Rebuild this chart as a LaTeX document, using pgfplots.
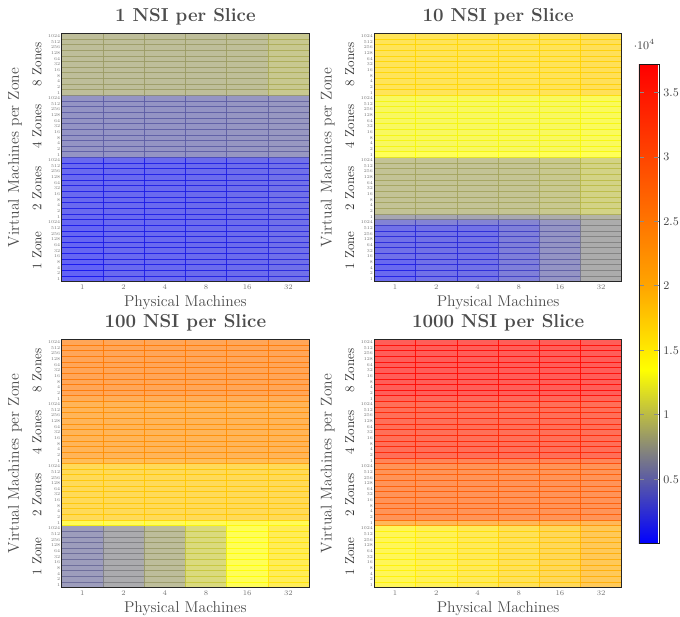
\documentclass[border=0pt]{standalone}
\usepackage{fontspec}
\usepackage{pgfplots}
\pgfplotsset{compat=1.18}
\pgfplotsset{
  colormap={nsi}{rgb255(0cm)=(0,0,255) rgb255(0.7cm)=(128,128,128) rgb255(1.35cm)=(255,255,0) rgb255(2cm)=(255,165,0) rgb255(3.72cm)=(255,0,0)},
  hm/.style={
    width=190.2pt, height=191pt, scale only axis,
    xmin=-0.5, xmax=5.5, ymin=-0.5, ymax=43.5, enlargelimits=false,
    xtick={0,...,5}, xticklabels={1,2,4,8,16,32},
    ytick={0,...,43},
    yticklabels={1024,512,256,128,64,32,16,8,4,2,1,1024,512,256,128,64,32,16,8,4,2,1,1024,512,256,128,64,32,16,8,4,2,1,1024,512,256,128,64,32,16,8,4,2,1},
    major tick length=0pt,
    /pgf/number format/assume math mode=true,
    colormap name=nsi, point meta min=0, point meta max=37200,
    axis line style={black!85, line width=0.6pt},
    title style={font=\Large\bfseries, text=black!70, yshift=-3pt},
    xlabel={Physical Machines},
    xlabel style={font=\large, text=black!70, at={(rel axis cs:0.5,0)}, anchor=center, yshift=-16.3pt},
    x tick label style={font=\fontsize{5.5}{6}\selectfont, text=black!55, inner sep=2pt},
    y tick label style={font=\fontsize{3.4}{3.6}\selectfont, text=black!55, inner sep=1pt},
  },
  hmplot/.style={matrix plot, mesh/cols=6, point meta=explicit, opacity=0.65,
    faceted color=mapped color!55!black, line width=0.5pt},
}
\begin{document}
\begin{tikzpicture}
\path[use as bounding box] (0,0) rectangle (523pt,-473.8pt);

% ---------- 1 NSI per Slice ----------
\begin{axis}[hm, name=tl, at={(47.5pt,-25.6pt)}, anchor=north west, title={1 NSI per Slice}]
\addplot[hmplot] table[row sep=\\, meta=c, x=x, y expr=43-\thisrow{y}] {
x y c\\
0 0 900\\ 1 0 1400\\ 2 0 1400\\ 3 0 1500\\ 4 0 1600\\ 5 0 1900\\
0 1 900\\ 1 1 1400\\ 2 1 1400\\ 3 1 1500\\ 4 1 1600\\ 5 1 1900\\
0 2 900\\ 1 2 1400\\ 2 2 1400\\ 3 2 1500\\ 4 2 1600\\ 5 2 1900\\
0 3 900\\ 1 3 1400\\ 2 3 1400\\ 3 3 1500\\ 4 3 1600\\ 5 3 1900\\
0 4 1100\\ 1 4 1400\\ 2 4 1400\\ 3 4 1500\\ 4 4 1600\\ 5 4 1900\\
0 5 1100\\ 1 5 1400\\ 2 5 1400\\ 3 5 1500\\ 4 5 1600\\ 5 5 1900\\
0 6 1100\\ 1 6 1400\\ 2 6 1400\\ 3 6 1500\\ 4 6 1600\\ 5 6 1900\\
0 7 1100\\ 1 7 1400\\ 2 7 1400\\ 3 7 1500\\ 4 7 1600\\ 5 7 1900\\
0 8 1100\\ 1 8 1400\\ 2 8 1400\\ 3 8 1500\\ 4 8 1600\\ 5 8 1900\\
0 9 1100\\ 1 9 1400\\ 2 9 1400\\ 3 9 1500\\ 4 9 1600\\ 5 9 1900\\
0 10 1100\\ 1 10 1400\\ 2 10 1400\\ 3 10 1500\\ 4 10 1600\\ 5 10 1900\\
0 11 1400\\ 1 11 1400\\ 2 11 1400\\ 3 11 1500\\ 4 11 1700\\ 5 11 2000\\
0 12 1400\\ 1 12 1400\\ 2 12 1400\\ 3 12 1500\\ 4 12 1700\\ 5 12 2000\\
0 13 1400\\ 1 13 1400\\ 2 13 1400\\ 3 13 1500\\ 4 13 1700\\ 5 13 2000\\
0 14 1400\\ 1 14 1400\\ 2 14 1400\\ 3 14 1500\\ 4 14 1700\\ 5 14 2000\\
0 15 1400\\ 1 15 1400\\ 2 15 1400\\ 3 15 1500\\ 4 15 1700\\ 5 15 2000\\
0 16 1400\\ 1 16 1400\\ 2 16 1400\\ 3 16 1500\\ 4 16 1700\\ 5 16 2000\\
0 17 1400\\ 1 17 1400\\ 2 17 1400\\ 3 17 1500\\ 4 17 1700\\ 5 17 2000\\
0 18 1400\\ 1 18 1400\\ 2 18 1400\\ 3 18 1500\\ 4 18 1700\\ 5 18 2000\\
0 19 1400\\ 1 19 1400\\ 2 19 1400\\ 3 19 1500\\ 4 19 1700\\ 5 19 2000\\
0 20 1400\\ 1 20 1400\\ 2 20 1400\\ 3 20 1500\\ 4 20 1700\\ 5 20 2000\\
0 21 1400\\ 1 21 1400\\ 2 21 1400\\ 3 21 1500\\ 4 21 1700\\ 5 21 2000\\
0 22 5000\\ 1 22 5000\\ 2 22 5000\\ 3 22 5000\\ 4 22 5100\\ 5 22 5300\\
0 23 5000\\ 1 23 5000\\ 2 23 5000\\ 3 23 5000\\ 4 23 5100\\ 5 23 5300\\
0 24 5000\\ 1 24 5000\\ 2 24 5000\\ 3 24 5000\\ 4 24 5100\\ 5 24 5300\\
0 25 5000\\ 1 25 5000\\ 2 25 5000\\ 3 25 5000\\ 4 25 5100\\ 5 25 5300\\
0 26 5000\\ 1 26 5000\\ 2 26 5000\\ 3 26 5000\\ 4 26 5100\\ 5 26 5300\\
0 27 5000\\ 1 27 5000\\ 2 27 5000\\ 3 27 5000\\ 4 27 5100\\ 5 27 5300\\
0 28 5000\\ 1 28 5000\\ 2 28 5000\\ 3 28 5000\\ 4 28 5100\\ 5 28 5300\\
0 29 5000\\ 1 29 5000\\ 2 29 5000\\ 3 29 5000\\ 4 29 5100\\ 5 29 5300\\
0 30 5000\\ 1 30 5000\\ 2 30 5000\\ 3 30 5000\\ 4 30 5100\\ 5 30 5300\\
0 31 5000\\ 1 31 5000\\ 2 31 5000\\ 3 31 5000\\ 4 31 5100\\ 5 31 5300\\
0 32 5000\\ 1 32 5000\\ 2 32 5000\\ 3 32 5000\\ 4 32 5100\\ 5 32 5300\\
0 33 8400\\ 1 33 8400\\ 2 33 8400\\ 3 33 8400\\ 4 33 8500\\ 5 33 9200\\
0 34 8400\\ 1 34 8400\\ 2 34 8400\\ 3 34 8400\\ 4 34 8500\\ 5 34 9200\\
0 35 8400\\ 1 35 8400\\ 2 35 8400\\ 3 35 8400\\ 4 35 8500\\ 5 35 9200\\
0 36 8400\\ 1 36 8400\\ 2 36 8400\\ 3 36 8400\\ 4 36 8500\\ 5 36 9200\\
0 37 8400\\ 1 37 8400\\ 2 37 8400\\ 3 37 8400\\ 4 37 8500\\ 5 37 9200\\
0 38 8400\\ 1 38 8400\\ 2 38 8400\\ 3 38 8400\\ 4 38 8500\\ 5 38 9200\\
0 39 8400\\ 1 39 8400\\ 2 39 8400\\ 3 39 8400\\ 4 39 8500\\ 5 39 9200\\
0 40 8400\\ 1 40 8400\\ 2 40 8400\\ 3 40 8400\\ 4 40 8500\\ 5 40 9200\\
0 41 8400\\ 1 41 8400\\ 2 41 8400\\ 3 41 8400\\ 4 41 8500\\ 5 41 9200\\
0 42 8400\\ 1 42 8400\\ 2 42 8400\\ 3 42 8400\\ 4 42 8500\\ 5 42 9200\\
0 43 8400\\ 1 43 8400\\ 2 43 8400\\ 3 43 8400\\ 4 43 8500\\ 5 43 9200\\
};
\end{axis}

% ---------- 10 NSI per Slice ----------
\begin{axis}[hm, name=tr, at={(288pt,-25.6pt)}, anchor=north west, title={10 NSI per Slice},
  colorbar,
  colorbar style={at={(parent axis.north east)}, anchor=north west,
    xshift=4.6pt, yshift=-23.6pt,
    scale only axis, width=15.4pt, height=369pt,
    ytick={5000,10000,15000,20000,25000,30000,35000},
    yticklabel style={font=\small, text=black!75},
    major tick length=4pt,
    major tick style={black!45, line width=0.5pt},
    axis line style={black!90},
    every y tick scale label/.append style={font=\small, text=black!75}}]
\addplot[hmplot] table[row sep=\\, meta=c, x=x, y expr=43-\thisrow{y}] {
x y c\\
0 0 1400\\ 1 0 2000\\ 2 0 2100\\ 3 0 3200\\ 4 0 5000\\ 5 0 7000\\
0 1 1400\\ 1 1 2000\\ 2 1 2100\\ 3 1 3200\\ 4 1 5000\\ 5 1 7000\\
0 2 1400\\ 1 2 2000\\ 2 2 2100\\ 3 2 3200\\ 4 2 5000\\ 5 2 7000\\
0 3 1400\\ 1 3 2000\\ 2 3 2100\\ 3 3 3200\\ 4 3 5000\\ 5 3 7000\\
0 4 2000\\ 1 4 2100\\ 2 4 2100\\ 3 4 3200\\ 4 4 5000\\ 5 4 7000\\
0 5 2000\\ 1 5 2100\\ 2 5 2100\\ 3 5 3200\\ 4 5 5000\\ 5 5 7000\\
0 6 2000\\ 1 6 2100\\ 2 6 2100\\ 3 6 3200\\ 4 6 5000\\ 5 6 7000\\
0 7 2000\\ 1 7 2100\\ 2 7 2100\\ 3 7 3200\\ 4 7 5000\\ 5 7 7000\\
0 8 2000\\ 1 8 2100\\ 2 8 2100\\ 3 8 3200\\ 4 8 5000\\ 5 8 7000\\
0 9 2000\\ 1 9 2100\\ 2 9 2100\\ 3 9 3200\\ 4 9 5000\\ 5 9 7000\\
0 10 3500\\ 1 10 3500\\ 2 10 3500\\ 3 10 3800\\ 4 10 5200\\ 5 10 7000\\
0 11 6500\\ 1 11 6500\\ 2 11 6500\\ 3 11 6600\\ 4 11 7000\\ 5 11 7500\\
0 12 8800\\ 1 12 8800\\ 2 12 8800\\ 3 12 8900\\ 4 12 9200\\ 5 12 10000\\
0 13 8800\\ 1 13 8800\\ 2 13 8800\\ 3 13 8900\\ 4 13 9200\\ 5 13 10000\\
0 14 8800\\ 1 14 8800\\ 2 14 8800\\ 3 14 8900\\ 4 14 9200\\ 5 14 10000\\
0 15 8800\\ 1 15 8800\\ 2 15 8800\\ 3 15 8900\\ 4 15 9200\\ 5 15 10000\\
0 16 8800\\ 1 16 8800\\ 2 16 8800\\ 3 16 8900\\ 4 16 9200\\ 5 16 10000\\
0 17 8800\\ 1 17 8800\\ 2 17 8800\\ 3 17 8900\\ 4 17 9200\\ 5 17 10000\\
0 18 8800\\ 1 18 8800\\ 2 18 8800\\ 3 18 8900\\ 4 18 9200\\ 5 18 10000\\
0 19 8800\\ 1 19 8800\\ 2 19 8800\\ 3 19 8900\\ 4 19 9200\\ 5 19 10000\\
0 20 8800\\ 1 20 8800\\ 2 20 8800\\ 3 20 8900\\ 4 20 9200\\ 5 20 10000\\
0 21 8800\\ 1 21 8800\\ 2 21 8800\\ 3 21 8900\\ 4 21 9200\\ 5 21 10000\\
0 22 13500\\ 1 22 13500\\ 2 22 13500\\ 3 22 13500\\ 4 22 13500\\ 5 22 13500\\
0 23 13000\\ 1 23 13000\\ 2 23 13000\\ 3 23 13000\\ 4 23 13000\\ 5 23 13100\\
0 24 13000\\ 1 24 13000\\ 2 24 13000\\ 3 24 13000\\ 4 24 13000\\ 5 24 13100\\
0 25 13000\\ 1 25 13000\\ 2 25 13000\\ 3 25 13000\\ 4 25 13000\\ 5 25 13100\\
0 26 13000\\ 1 26 13000\\ 2 26 13000\\ 3 26 13000\\ 4 26 13000\\ 5 26 13100\\
0 27 13000\\ 1 27 13000\\ 2 27 13000\\ 3 27 13000\\ 4 27 13000\\ 5 27 13100\\
0 28 13000\\ 1 28 13000\\ 2 28 13000\\ 3 28 13000\\ 4 28 13000\\ 5 28 13100\\
0 29 13000\\ 1 29 13000\\ 2 29 13000\\ 3 29 13000\\ 4 29 13000\\ 5 29 13100\\
0 30 13000\\ 1 30 13000\\ 2 30 13000\\ 3 30 13000\\ 4 30 13000\\ 5 30 13100\\
0 31 13000\\ 1 31 13000\\ 2 31 13000\\ 3 31 13000\\ 4 31 13000\\ 5 31 13100\\
0 32 13000\\ 1 32 13000\\ 2 32 13000\\ 3 32 13000\\ 4 32 13000\\ 5 32 13100\\
0 33 16500\\ 1 33 16500\\ 2 33 16500\\ 3 33 16500\\ 4 33 16600\\ 5 33 17000\\
0 34 16500\\ 1 34 16500\\ 2 34 16500\\ 3 34 16500\\ 4 34 16600\\ 5 34 17000\\
0 35 16500\\ 1 35 16500\\ 2 35 16500\\ 3 35 16500\\ 4 35 16600\\ 5 35 17000\\
0 36 16500\\ 1 36 16500\\ 2 36 16500\\ 3 36 16500\\ 4 36 16600\\ 5 36 17000\\
0 37 16500\\ 1 37 16500\\ 2 37 16500\\ 3 37 16500\\ 4 37 16600\\ 5 37 17000\\
0 38 16500\\ 1 38 16500\\ 2 38 16500\\ 3 38 16500\\ 4 38 16600\\ 5 38 17000\\
0 39 16500\\ 1 39 16500\\ 2 39 16500\\ 3 39 16500\\ 4 39 16600\\ 5 39 17000\\
0 40 16500\\ 1 40 16500\\ 2 40 16500\\ 3 40 16500\\ 4 40 16600\\ 5 40 17000\\
0 41 16500\\ 1 41 16500\\ 2 41 16500\\ 3 41 16500\\ 4 41 16600\\ 5 41 17000\\
0 42 16500\\ 1 42 16500\\ 2 42 16500\\ 3 42 16500\\ 4 42 16600\\ 5 42 17000\\
0 43 16500\\ 1 43 16500\\ 2 43 16500\\ 3 43 16500\\ 4 43 16600\\ 5 43 17000\\
};
\end{axis}

% ---------- 100 NSI per Slice ----------
\begin{axis}[hm, name=bl, at={(47.5pt,-261pt)}, anchor=north west, title={100 NSI per Slice}]
\addplot[hmplot] table[row sep=\\, meta=c, x=x, y expr=43-\thisrow{y}] {
x y c\\
0 0 5700\\ 1 0 6900\\ 2 0 8300\\ 3 0 10600\\ 4 0 13600\\ 5 0 15500\\
0 1 5700\\ 1 1 6900\\ 2 1 8300\\ 3 1 10600\\ 4 1 13600\\ 5 1 15500\\
0 2 5700\\ 1 2 6900\\ 2 2 8300\\ 3 2 10600\\ 4 2 13600\\ 5 2 15500\\
0 3 5700\\ 1 3 6900\\ 2 3 8300\\ 3 3 10600\\ 4 3 13600\\ 5 3 15500\\
0 4 5700\\ 1 4 6900\\ 2 4 8300\\ 3 4 10600\\ 4 4 13600\\ 5 4 15500\\
0 5 5700\\ 1 5 6900\\ 2 5 8300\\ 3 5 10600\\ 4 5 13600\\ 5 5 15500\\
0 6 5700\\ 1 6 6900\\ 2 6 8300\\ 3 6 10600\\ 4 6 13600\\ 5 6 15500\\
0 7 5700\\ 1 7 6900\\ 2 7 8300\\ 3 7 10600\\ 4 7 13600\\ 5 7 15500\\
0 8 5700\\ 1 8 6900\\ 2 8 8300\\ 3 8 10600\\ 4 8 13600\\ 5 8 15500\\
0 9 5700\\ 1 9 6900\\ 2 9 8300\\ 3 9 10600\\ 4 9 13600\\ 5 9 15500\\
0 10 5700\\ 1 10 6900\\ 2 10 8300\\ 3 10 10600\\ 4 10 13600\\ 5 10 15500\\
0 11 14000\\ 1 11 14000\\ 2 11 14000\\ 3 11 14000\\ 4 11 14000\\ 5 11 14000\\
0 12 17600\\ 1 12 17600\\ 2 12 17600\\ 3 12 17600\\ 4 12 17600\\ 5 12 17600\\
0 13 17600\\ 1 13 17600\\ 2 13 17600\\ 3 13 17600\\ 4 13 17600\\ 5 13 17600\\
0 14 17600\\ 1 14 17600\\ 2 14 17600\\ 3 14 17600\\ 4 14 17600\\ 5 14 17600\\
0 15 17600\\ 1 15 17600\\ 2 15 17600\\ 3 15 17600\\ 4 15 17600\\ 5 15 17600\\
0 16 17600\\ 1 16 17600\\ 2 16 17600\\ 3 16 17600\\ 4 16 17600\\ 5 16 17600\\
0 17 17600\\ 1 17 17600\\ 2 17 17600\\ 3 17 17600\\ 4 17 17600\\ 5 17 17600\\
0 18 17600\\ 1 18 17600\\ 2 18 17600\\ 3 18 17600\\ 4 18 17600\\ 5 18 17600\\
0 19 17600\\ 1 19 17600\\ 2 19 17600\\ 3 19 17600\\ 4 19 17600\\ 5 19 17600\\
0 20 17600\\ 1 20 17600\\ 2 20 17600\\ 3 20 17600\\ 4 20 17600\\ 5 20 17600\\
0 21 17600\\ 1 21 17600\\ 2 21 17600\\ 3 21 17600\\ 4 21 17600\\ 5 21 17600\\
0 22 21000\\ 1 22 21000\\ 2 22 21000\\ 3 22 21000\\ 4 22 21000\\ 5 22 21000\\
0 23 22500\\ 1 23 22500\\ 2 23 22500\\ 3 23 22500\\ 4 23 22500\\ 5 23 22500\\
0 24 22500\\ 1 24 22500\\ 2 24 22500\\ 3 24 22500\\ 4 24 22500\\ 5 24 22500\\
0 25 22500\\ 1 25 22500\\ 2 25 22500\\ 3 25 22500\\ 4 25 22500\\ 5 25 22500\\
0 26 22500\\ 1 26 22500\\ 2 26 22500\\ 3 26 22500\\ 4 26 22500\\ 5 26 22500\\
0 27 22500\\ 1 27 22500\\ 2 27 22500\\ 3 27 22500\\ 4 27 22500\\ 5 27 22500\\
0 28 22500\\ 1 28 22500\\ 2 28 22500\\ 3 28 22500\\ 4 28 22500\\ 5 28 22500\\
0 29 22500\\ 1 29 22500\\ 2 29 22500\\ 3 29 22500\\ 4 29 22500\\ 5 29 22500\\
0 30 22500\\ 1 30 22500\\ 2 30 22500\\ 3 30 22500\\ 4 30 22500\\ 5 30 22500\\
0 31 22500\\ 1 31 22500\\ 2 31 22500\\ 3 31 22500\\ 4 31 22500\\ 5 31 22500\\
0 32 22500\\ 1 32 22500\\ 2 32 22500\\ 3 32 22500\\ 4 32 22500\\ 5 32 22500\\
0 33 23500\\ 1 33 23500\\ 2 33 23500\\ 3 33 23500\\ 4 33 23500\\ 5 33 23500\\
0 34 24800\\ 1 34 24800\\ 2 34 24800\\ 3 34 24800\\ 4 34 24800\\ 5 34 24800\\
0 35 24800\\ 1 35 24800\\ 2 35 24800\\ 3 35 24800\\ 4 35 24800\\ 5 35 24800\\
0 36 24800\\ 1 36 24800\\ 2 36 24800\\ 3 36 24800\\ 4 36 24800\\ 5 36 24800\\
0 37 24800\\ 1 37 24800\\ 2 37 24800\\ 3 37 24800\\ 4 37 24800\\ 5 37 24800\\
0 38 24800\\ 1 38 24800\\ 2 38 24800\\ 3 38 24800\\ 4 38 24800\\ 5 38 24800\\
0 39 24800\\ 1 39 24800\\ 2 39 24800\\ 3 39 24800\\ 4 39 24800\\ 5 39 24800\\
0 40 24800\\ 1 40 24800\\ 2 40 24800\\ 3 40 24800\\ 4 40 24800\\ 5 40 24800\\
0 41 24800\\ 1 41 24800\\ 2 41 24800\\ 3 41 24800\\ 4 41 24800\\ 5 41 24800\\
0 42 24800\\ 1 42 24800\\ 2 42 24800\\ 3 42 24800\\ 4 42 24800\\ 5 42 24800\\
0 43 24800\\ 1 43 24800\\ 2 43 24800\\ 3 43 24800\\ 4 43 24800\\ 5 43 24800\\
};
\end{axis}

% ---------- 1000 NSI per Slice ----------
\begin{axis}[hm, name=br, at={(288pt,-261pt)}, anchor=north west, title={1000 NSI per Slice}]
\addplot[hmplot] table[row sep=\\, meta=c, x=x, y expr=43-\thisrow{y}] {
x y c\\
0 0 14500\\ 1 0 15000\\ 2 0 15800\\ 3 0 16800\\ 4 0 17800\\ 5 0 19500\\
0 1 14500\\ 1 1 15000\\ 2 1 15800\\ 3 1 16800\\ 4 1 17800\\ 5 1 19500\\
0 2 14500\\ 1 2 15000\\ 2 2 15800\\ 3 2 16800\\ 4 2 17800\\ 5 2 19500\\
0 3 14500\\ 1 3 15000\\ 2 3 15800\\ 3 3 16800\\ 4 3 17800\\ 5 3 19500\\
0 4 14500\\ 1 4 15000\\ 2 4 15800\\ 3 4 16800\\ 4 4 17800\\ 5 4 19500\\
0 5 14500\\ 1 5 15000\\ 2 5 15800\\ 3 5 16800\\ 4 5 17800\\ 5 5 19500\\
0 6 14500\\ 1 6 15000\\ 2 6 15800\\ 3 6 16800\\ 4 6 17800\\ 5 6 19500\\
0 7 14500\\ 1 7 15000\\ 2 7 15800\\ 3 7 16800\\ 4 7 17800\\ 5 7 19500\\
0 8 14500\\ 1 8 15000\\ 2 8 15800\\ 3 8 16800\\ 4 8 17800\\ 5 8 19500\\
0 9 14500\\ 1 9 15000\\ 2 9 15800\\ 3 9 16800\\ 4 9 17800\\ 5 9 19500\\
0 10 14500\\ 1 10 15000\\ 2 10 15800\\ 3 10 16800\\ 4 10 17800\\ 5 10 19500\\
0 11 22000\\ 1 11 22000\\ 2 11 22000\\ 3 11 22000\\ 4 11 22000\\ 5 11 22000\\
0 12 27700\\ 1 12 27700\\ 2 12 27700\\ 3 12 27700\\ 4 12 27700\\ 5 12 27700\\
0 13 27700\\ 1 13 27700\\ 2 13 27700\\ 3 13 27700\\ 4 13 27700\\ 5 13 27700\\
0 14 27700\\ 1 14 27700\\ 2 14 27700\\ 3 14 27700\\ 4 14 27700\\ 5 14 27700\\
0 15 27700\\ 1 15 27700\\ 2 15 27700\\ 3 15 27700\\ 4 15 27700\\ 5 15 27700\\
0 16 27700\\ 1 16 27700\\ 2 16 27700\\ 3 16 27700\\ 4 16 27700\\ 5 16 27700\\
0 17 27700\\ 1 17 27700\\ 2 17 27700\\ 3 17 27700\\ 4 17 27700\\ 5 17 27700\\
0 18 27700\\ 1 18 27700\\ 2 18 27700\\ 3 18 27700\\ 4 18 27700\\ 5 18 27700\\
0 19 27700\\ 1 19 27700\\ 2 19 27700\\ 3 19 27700\\ 4 19 27700\\ 5 19 27700\\
0 20 27700\\ 1 20 27700\\ 2 20 27700\\ 3 20 27700\\ 4 20 27700\\ 5 20 27700\\
0 21 27700\\ 1 21 27700\\ 2 21 27700\\ 3 21 27700\\ 4 21 27700\\ 5 21 27700\\
0 22 30000\\ 1 22 30000\\ 2 22 30000\\ 3 22 30000\\ 4 22 30000\\ 5 22 30000\\
0 23 33600\\ 1 23 33600\\ 2 23 33600\\ 3 23 33600\\ 4 23 33600\\ 5 23 33600\\
0 24 33600\\ 1 24 33600\\ 2 24 33600\\ 3 24 33600\\ 4 24 33600\\ 5 24 33600\\
0 25 33600\\ 1 25 33600\\ 2 25 33600\\ 3 25 33600\\ 4 25 33600\\ 5 25 33600\\
0 26 33600\\ 1 26 33600\\ 2 26 33600\\ 3 26 33600\\ 4 26 33600\\ 5 26 33600\\
0 27 33600\\ 1 27 33600\\ 2 27 33600\\ 3 27 33600\\ 4 27 33600\\ 5 27 33600\\
0 28 33600\\ 1 28 33600\\ 2 28 33600\\ 3 28 33600\\ 4 28 33600\\ 5 28 33600\\
0 29 33600\\ 1 29 33600\\ 2 29 33600\\ 3 29 33600\\ 4 29 33600\\ 5 29 33600\\
0 30 33600\\ 1 30 33600\\ 2 30 33600\\ 3 30 33600\\ 4 30 33600\\ 5 30 33600\\
0 31 33600\\ 1 31 33600\\ 2 31 33600\\ 3 31 33600\\ 4 31 33600\\ 5 31 33600\\
0 32 33600\\ 1 32 33600\\ 2 32 33600\\ 3 32 33600\\ 4 32 33600\\ 5 32 33600\\
0 33 35000\\ 1 33 35000\\ 2 33 35000\\ 3 33 35000\\ 4 33 35000\\ 5 33 35000\\
0 34 36500\\ 1 34 36500\\ 2 34 36500\\ 3 34 36500\\ 4 34 36500\\ 5 34 36500\\
0 35 36500\\ 1 35 36500\\ 2 35 36500\\ 3 35 36500\\ 4 35 36500\\ 5 35 36500\\
0 36 36500\\ 1 36 36500\\ 2 36 36500\\ 3 36 36500\\ 4 36 36500\\ 5 36 36500\\
0 37 36500\\ 1 37 36500\\ 2 37 36500\\ 3 37 36500\\ 4 37 36500\\ 5 37 36500\\
0 38 36500\\ 1 38 36500\\ 2 38 36500\\ 3 38 36500\\ 4 38 36500\\ 5 38 36500\\
0 39 36500\\ 1 39 36500\\ 2 39 36500\\ 3 39 36500\\ 4 39 36500\\ 5 39 36500\\
0 40 36500\\ 1 40 36500\\ 2 40 36500\\ 3 40 36500\\ 4 40 36500\\ 5 40 36500\\
0 41 36500\\ 1 41 36500\\ 2 41 36500\\ 3 41 36500\\ 4 41 36500\\ 5 41 36500\\
0 42 36500\\ 1 42 36500\\ 2 42 36500\\ 3 42 36500\\ 4 42 36500\\ 5 42 36500\\
0 43 36500\\ 1 43 36500\\ 2 43 36500\\ 3 43 36500\\ 4 43 36500\\ 5 43 36500\\
};
\end{axis}

\foreach \a in {tl,tr,bl,br}{
  \node[rotate=90, font=\large, text=black!70] at ([xshift=-36pt]\a.west) {Virtual Machines per Zone};
  \node[rotate=90, text=black!78] at ([xshift=-19pt,yshift=23.9pt]\a.south west) {1 Zone};
  \node[rotate=90, text=black!78] at ([xshift=-19pt,yshift=71.6pt]\a.south west) {2 Zones};
  \node[rotate=90, text=black!78] at ([xshift=-19pt,yshift=119.4pt]\a.south west) {4 Zones};
  \node[rotate=90, text=black!78] at ([xshift=-19pt,yshift=167.1pt]\a.south west) {8 Zones};
}
\end{tikzpicture}
\end{document}
